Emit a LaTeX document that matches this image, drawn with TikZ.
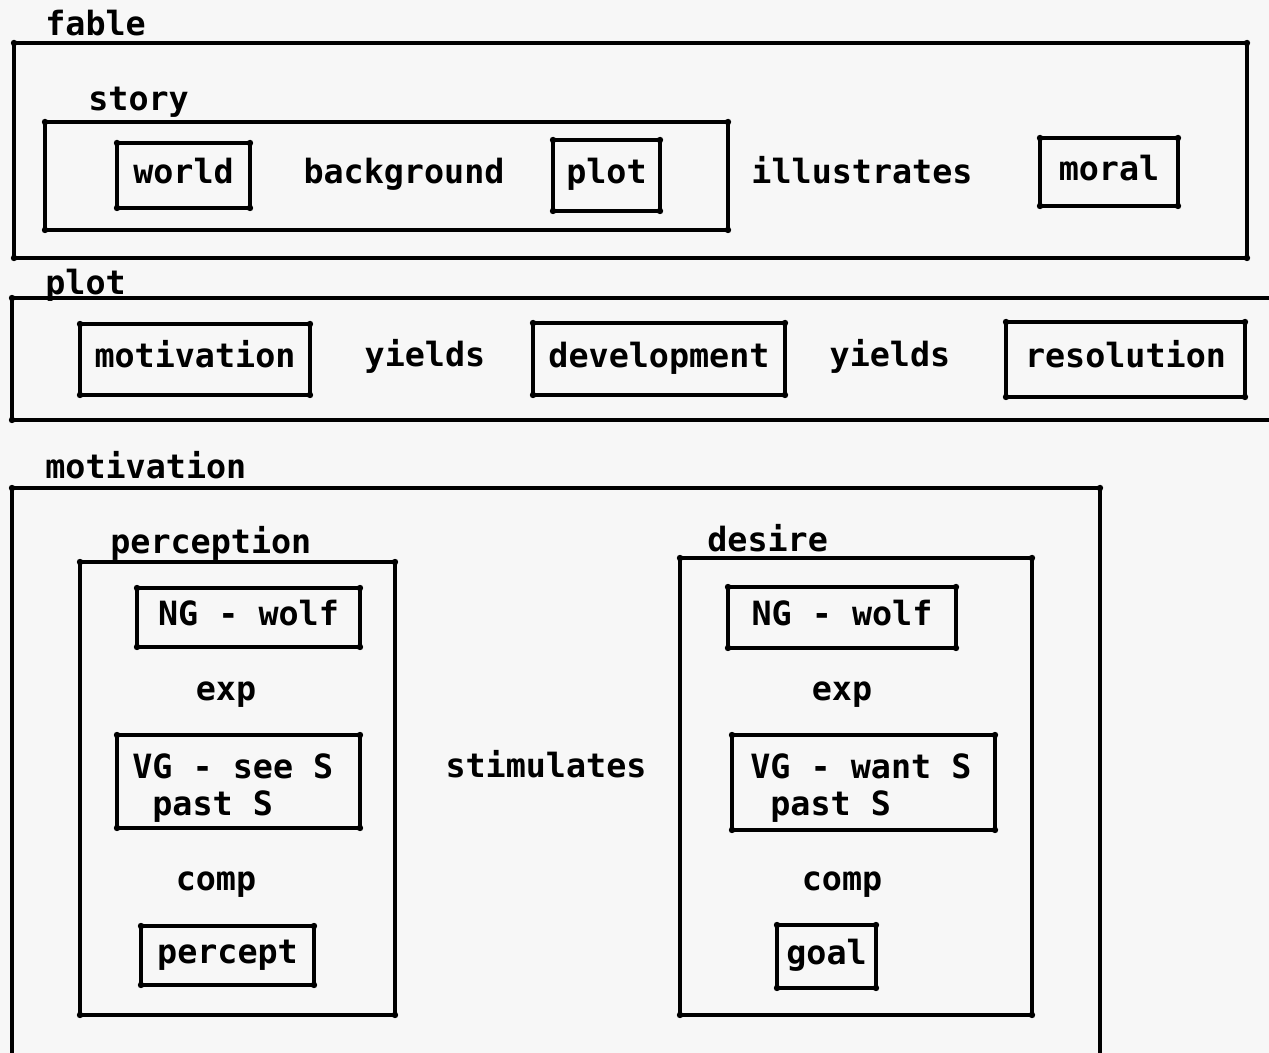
\documentclass[tikz,border=0pt]{standalone}
\usepackage{fontspec}
\setmonofont{DejaVu Sans Mono}
\usetikzlibrary{fit}
\newcommand\bnode[6]{\node[bx, minimum width={(#4-#2)*0.02cm}, minimum height={(#5-#3)*0.02cm}] (#1) at ({(#2+#4)/2},{(#3+#5)/2}) {#6};}
\begin{document}
\begin{tikzpicture}[x=0.02cm,y=-0.02cm,
  lw/.style={line width=2.6pt, line join=round, line cap=round},
  txt/.style={font=\ttfamily\bfseries\fontsize{19}{21.5}\selectfont, text height=1.15em, text depth=0.2em, inner sep=0pt},
  two/.style={font=\ttfamily\bfseries\fontsize{19}{21.5}\selectfont, align=left, inner sep=0pt, anchor=north west},
  bx/.style={lw, draw, inner sep=0pt, outer sep=0pt, txt},
  frm/.style={lw, draw, inner sep=0pt, outer sep=0pt}
]
\fill[white!97!black] (0,0) rectangle (1269,1053);
\useasboundingbox (0,0) rectangle (1269,1053);

% ---- fable ----
\node[txt, anchor=west] (fableL) at (45,27) {fable};
\node[frm, fit={(14,43) (1247,258)}] (fable) {};
\node[txt, anchor=west] (storyL) at (88,102) {story};
\node[frm, fit={(45,122) (728,230)}] (story) {};
\bnode{world}{117}{143}{250}{208}{world}
\node[txt] (background) at (404,175) {background};
\bnode{plotI}{553}{140}{660}{211}{plot}
\node[txt] (illustrates) at (862,175) {illustrates};
\bnode{moral}{1040}{138}{1178}{206}{moral}

% ---- plot ----
\node[txt, anchor=west] (plotL) at (45,286) {plot};
\coordinate (pA) at (1269,298);
\coordinate (pB) at (12,298);
\coordinate (pC) at (12,420);
\coordinate (pD) at (1269,420);
\draw[lw] (pA) -- (pB) -- (pC) -- (pD);
\bnode{motivation}{80}{324}{310}{395}{motivation}
\node[txt] (yields1) at (425,358) {yields};
\bnode{development}{533}{323}{785}{395}{development}
\node[txt] (yields2) at (890,358) {yields};
\bnode{resolution}{1006}{322}{1245}{397}{resolution}

% ---- motivation ----
\node[txt, anchor=west] (motivationL) at (45,470) {motivation};
\coordinate (mA) at (12,1053);
\coordinate (mB) at (12,488);
\coordinate (mC) at (1100,488);
\coordinate (mD) at (1100,1053);
\draw[lw] (mA) -- (mB) -- (mC) -- (mD);

\node[txt, anchor=west] (perceptionL) at (110,545) {perception};
\node[frm, fit={(80,562) (395,1015)}] (perception) {};
\bnode{ng1}{137}{588}{360}{647}{NG - wolf}
\node[txt] (exp1) at (226,692) {exp};
\node[frm, fit={(117,735) (360,828)}] (vg1) {};
\node[two] (vg1t) at (132,753) {VG - see S\\\hspace*{0.6em}past S};
\node[txt] (comp1) at (216,882) {comp};
\bnode{percept}{141}{926}{314}{985}{percept}

\node[txt] (stimulates) at (546,769) {stimulates};

\node[txt, anchor=west] (desireL) at (707,543) {desire};
\node[frm, fit={(680,558) (1032,1015)}] (desire) {};
\bnode{ng2}{728}{587}{956}{648}{NG - wolf}
\node[txt] (exp2) at (842,692) {exp};
\node[frm, fit={(732,735) (995,830)}] (vg2) {};
\node[two] (vg2t) at (750,753) {VG - want S\\\hspace*{0.6em}past S};
\node[txt] (comp2) at (842,882) {comp};
\bnode{goal}{777}{925}{876}{988}{goal}

% corner blobs
\foreach \n in {fable,story,world,plotI,moral,motivation,development,resolution,perception,ng1,vg1,percept,desire,ng2,vg2,goal}
  \foreach \a in {north west,north east,south west,south east}
    \fill (\n.\a) circle (3.2);
\foreach \c in {pB,pC,mB,mC}
  \fill (\c) circle (3.2);
\end{tikzpicture}
\end{document}
